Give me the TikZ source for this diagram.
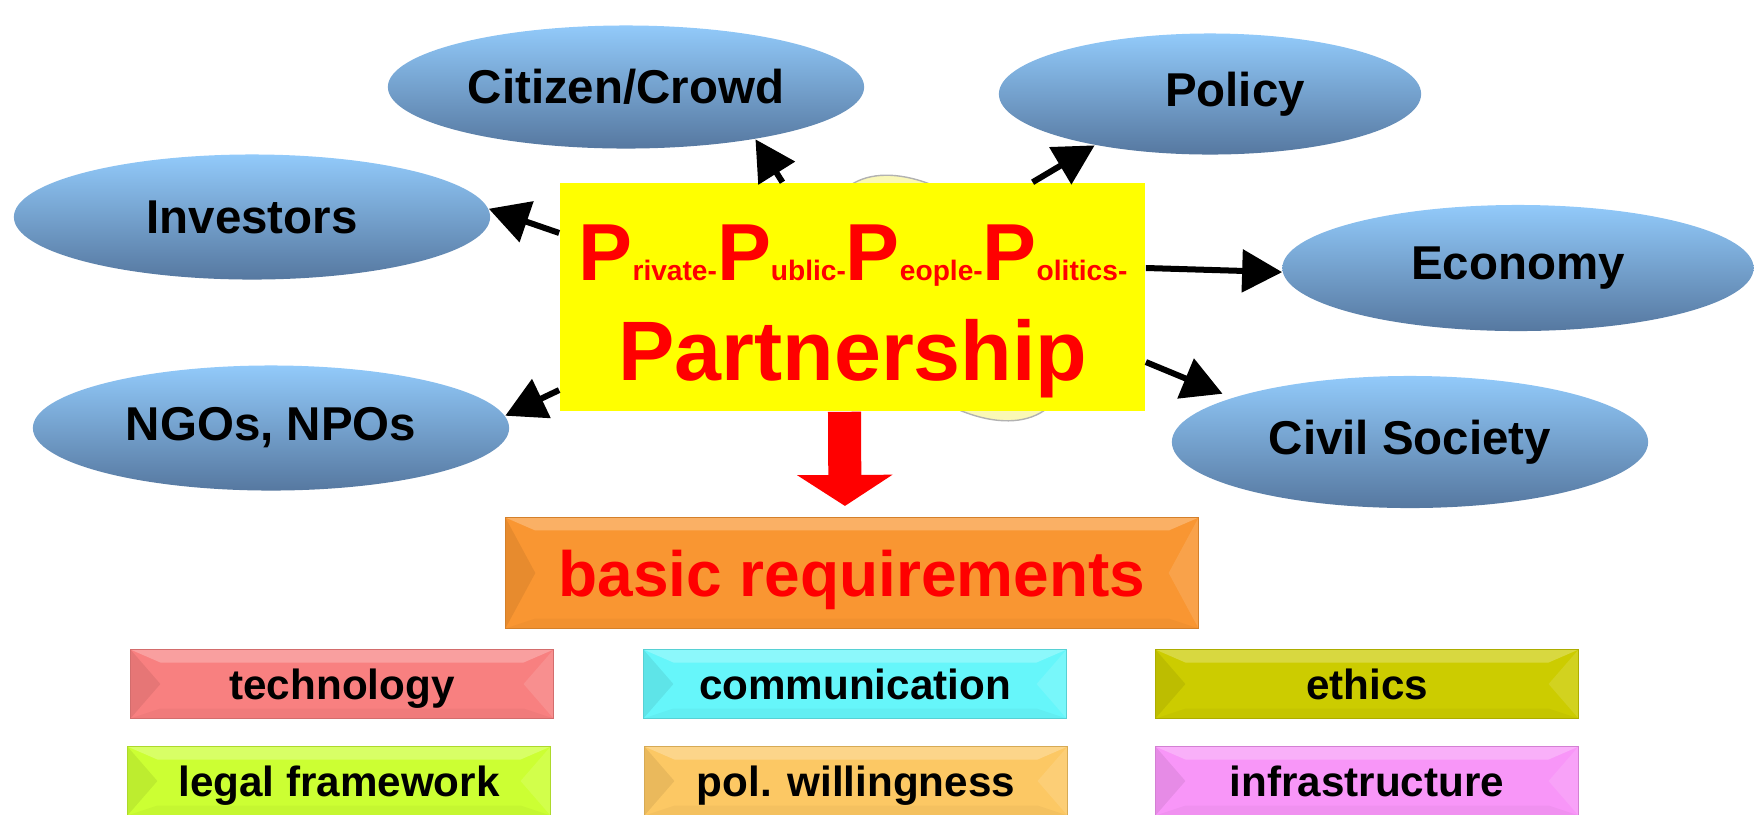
\documentclass[tikz,border=0pt]{standalone}
\usepackage{fontspec}
\setmainfont{Liberation Sans}
\usetikzlibrary{arrows.meta,shapes.geometric}

\definecolor{skytop}{RGB}{146,202,250}
\definecolor{skybot}{RGB}{86,120,160}
\definecolor{pppred}{RGB}{255,0,0}
\definecolor{pppyellow}{RGB}{255,255,0}
\definecolor{paleyellow}{RGB}{250,248,182}
\definecolor{reqorange}{RGB}{249,150,50}
\definecolor{techred}{RGB}{248,128,128}
\definecolor{commcyan}{RGB}{102,246,250}
\definecolor{ethicsolive}{RGB}{204,204,0}
\definecolor{legallime}{RGB}{204,255,51}
\definecolor{polorange}{RGB}{252,200,100}
\definecolor{infrapink}{RGB}{248,150,248}

\newcommand{\PPbig}{{\fontsize{23}{23}\selectfont P}}

\tikzset{
  actor/.style={ellipse, top color=skytop, bottom color=skybot, inner sep=0pt,
    font=\fontsize{13.5}{16}\selectfont\bfseries},
  pointer/.style={line width=0.06cm, -{Triangle[length=0.4cm,width=0.42cm]}},
  bevel/.style={fill=#1, draw=#1!85!black, line width=0.3pt, inner sep=0pt, text depth=0pt,
    path picture={
      \fill[white, opacity=0.25] (path picture bounding box.north west) -- (path picture bounding box.north east)
        -- ([shift={(-0.3cm,-0.13cm)}]path picture bounding box.north east) -- ([shift={(0.3cm,-0.13cm)}]path picture bounding box.north west) -- cycle;
      \fill[black, opacity=0.07] (path picture bounding box.north west) -- ([xshift=0.3cm]path picture bounding box.west) -- (path picture bounding box.south west) -- cycle;
      \fill[white, opacity=0.12] (path picture bounding box.north east) -- ([xshift=-0.3cm]path picture bounding box.east) -- (path picture bounding box.south east) -- cycle;
      \fill[black, opacity=0.03] (path picture bounding box.south west) -- (path picture bounding box.south east)
        -- ([shift={(-0.3cm,0.1cm)}]path picture bounding box.south east) -- ([shift={(0.3cm,0.1cm)}]path picture bounding box.south west) -- cycle;
    }},
  reqbox/.style={bevel=#1, minimum width=4.23cm, minimum height=0.69cm,
    font=\fontsize{12}{14}\selectfont\bfseries}
}

\begin{document}
\begin{tikzpicture}[x=0.01cm, y=-0.01cm]
\useasboundingbox (0,0) rectangle (1754,814);

% --- pale shape behind the PPPP box ---
\filldraw[fill=paleyellow, draw=black!30, rotate around={-46:(947,298)}] (947,298) ellipse (1.49cm and 0.86cm);

% --- partners (name/x/y/width/height/text) ---
\foreach \nm/\x/\y/\w/\h/\txt in {cit/626/87/4.76/1.23/{Citizen/Crowd}, pol/1210/94/4.22/1.21/{\hspace*{0.5cm}Policy},
    inv/252/217/4.76/1.25/{Investors}, eco/1518/268/4.71/1.26/{Economy},
    ngo/271/428/4.76/1.25/{NGOs, NPOs}, civ/1410/442/4.76/1.32/{Civil Society}} {
  \node[actor, minimum width=\w cm, minimum height=\h cm] (\nm) at (\x,\y) {\txt};
}

% --- PPPP box ---
\node[fill=pppyellow, minimum width=5.85cm, minimum height=2.28cm] (ppp) at (852.5,297) {};
\node[anchor=base, text=pppred, font=\fontsize{8}{9}\selectfont\bfseries] (ppptop) at (853,280)
  {\PPbig rivate-\PPbig ublic-\PPbig eople-\PPbig olitics-};
\node[anchor=base, text=pppred, font=\fontsize{24}{26}\selectfont\bfseries] (pship) at (853,380) {Partnership};

% arrows to the partners
\draw[pointer] ([xshift=-0.7cm]ppp.north) -- (cit.-22);
\draw[pointer] ([xshift=1.8cm]ppp.north) -- (pol.-156);
\draw[pointer] ([yshift=0.64cm]ppp.west) -- (inv.2);
\draw[pointer] ([yshift=0.29cm]ppp.east) -- (eco.181);
\draw[pointer, shorten >=0.1cm] ([yshift=-0.65cm]ppp.east) -- (civ.166);
\draw[pointer] ([yshift=-0.93cm]ppp.west) -- (ngo.3);

% --- basic requirements ---
\node[bevel=reqorange, minimum width=6.93cm, minimum height=1.11cm, text=pppred,
  font=\fontsize{18.2}{20}\selectfont\bfseries] (req) at (852,573) {basic requirements};
\draw[pppred, line width=0.33cm, -{Triangle[length=0.31cm,width=0.94cm]}, shorten >=0.11cm]
  ([xshift=-0.08cm]ppp.south) -- ([xshift=-0.07cm]req.north);

\foreach \nm/\x/\y/\col/\txt in {tech/342/684/techred/technology, comm/855/684/commcyan/communication,
    eth/1367/684/ethicsolive/ethics, legal/339/781/legallime/legal framework,
    pol/856/781/polorange/pol. willingness, infra/1367/781/infrapink/infrastructure} {
  \node[reqbox=\col] (\nm) at (\x,\y) {\txt};
}

\end{tikzpicture}
\end{document}
